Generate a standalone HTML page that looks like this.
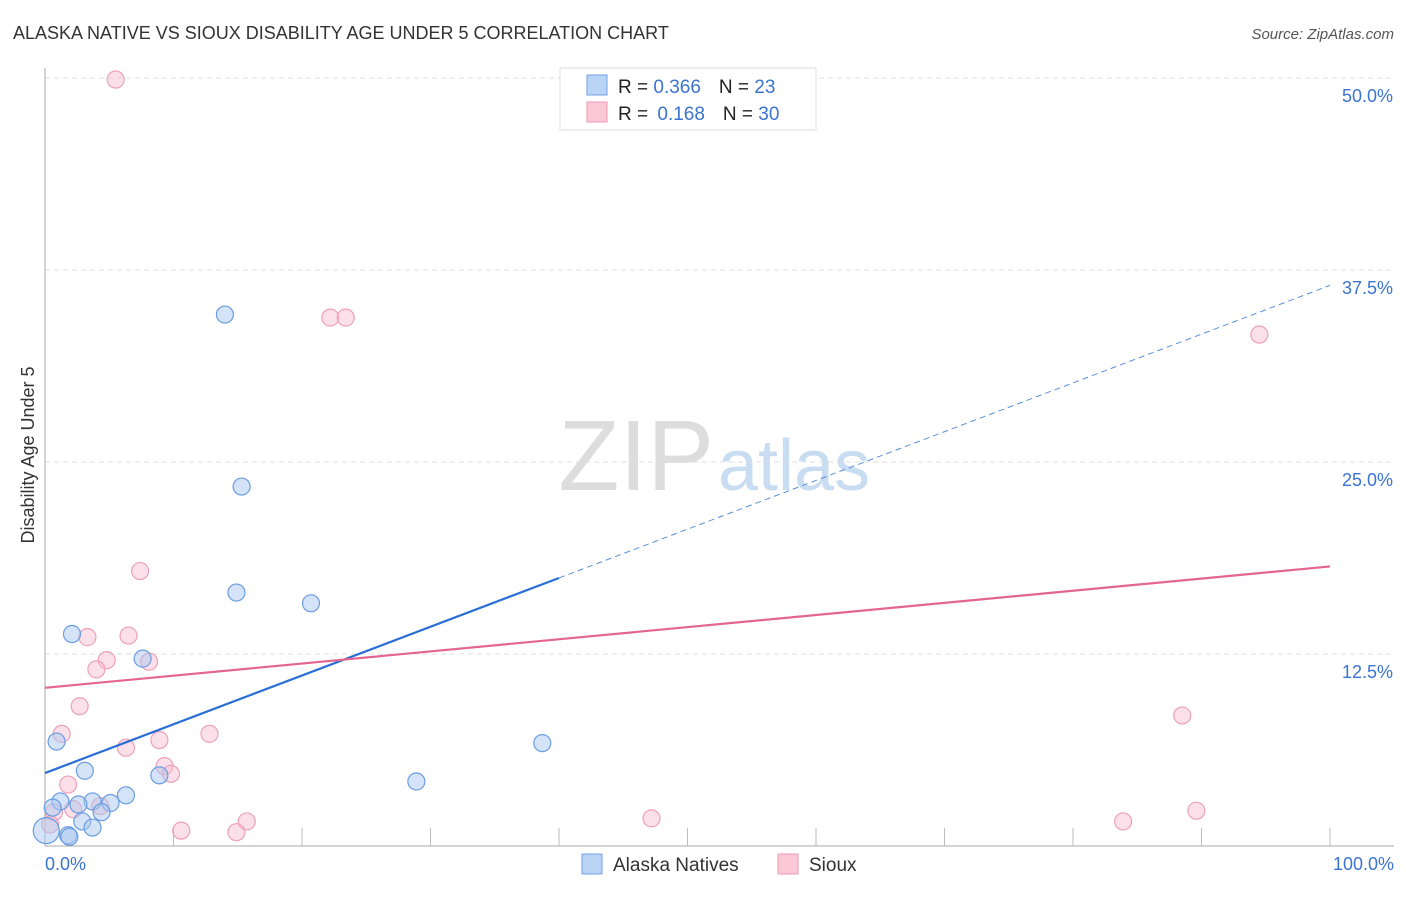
<!DOCTYPE html>
<html><head><meta charset="utf-8"><style>
body{margin:0;background:#fff;font-family:"Liberation Sans",sans-serif}
svg text{font-family:"Liberation Sans",sans-serif}
</style></head><body>
<svg id="chart" width="1406" height="892">
<text x="13" y="39" font-size="18" fill="#333">ALASKA NATIVE VS SIOUX DISABILITY AGE UNDER 5 CORRELATION CHART</text>
<text x="1394" y="39" font-size="15" fill="#555" font-style="italic" text-anchor="end">Source: ZipAtlas.com</text>
<text x="714" y="490" font-size="100" fill="#ddd" text-anchor="end" font-family="Liberation Serif">ZIP</text>
<text x="718" y="490" font-size="72" fill="#c8dcf2">atlas</text>
<g id="grid"></g><g id="axes"></g><g id="pts"></g><g id="lines"></g>
<text transform="translate(34,455) rotate(-90)" font-size="18" fill="#333" text-anchor="middle">Disability Age Under 5</text>
<text x="45" y="870" font-size="18" fill="#3b73d0">0.0%</text>
<text x="1394" y="870" font-size="18" fill="#3b73d0" text-anchor="end">100.0%</text>
<g>
<rect x="560" y="68" width="256" height="62" fill="#fff" stroke="#ddd"/>
<rect x="587" y="75" width="20" height="20" fill="#b9d3f5" stroke="#6fa0e6"/>
<rect x="587" y="102" width="20" height="20" fill="#fac8d6" stroke="#ee9ab3"/>
<text x="618" y="93" font-size="19" fill="#222">R = <tspan fill="#3b73d0">0.366</tspan><tspan dx="18">N = </tspan><tspan fill="#3b73d0">23</tspan></text>
<text x="618" y="120" font-size="19" fill="#222">R = <tspan fill="#3b73d0" dx="4">0.168</tspan><tspan dx="18">N = </tspan><tspan fill="#3b73d0">30</tspan></text>
</g>
<g>
<rect x="582" y="854" width="20" height="20" fill="#b9d3f5" stroke="#6fa0e6"/>
<text x="613" y="871" font-size="19" fill="#333">Alaska Natives</text>
<rect x="778" y="854" width="20" height="20" fill="#fac8d6" stroke="#ee9ab3"/>
<text x="809" y="871" font-size="19" fill="#333">Sioux</text>
</g>
</svg>
<script>
const yTicks=[12.5,25,37.5,50];
const yTickLabels=["12.5%","25.0%","37.5%","50.0%"];
const blueX=[14.0,15.3,14.9,20.7,2.1,7.6,0.9,38.7,3.1,8.9,28.9,6.3,3.7,1.2,2.6,5.1,0.6,4.4,2.9,3.7,1.8,1.9,0.1];
const blueY=[34.6,23.4,16.5,15.8,13.8,12.2,6.8,6.7,4.9,4.6,4.2,3.3,2.9,2.9,2.7,2.8,2.5,2.2,1.6,1.2,0.7,0.6,1.0];
const pinkX=[5.5,22.2,23.4,94.5,7.4,3.3,6.5,4.8,8.1,4.0,2.7,1.3,12.8,8.9,6.3,88.5,1.8,9.3,9.8,4.3,0.7,2.2,89.6,47.2,15.7,83.9,10.6,14.9,0.4,54.3];
const pinkY=[49.9,34.4,34.4,33.3,17.9,13.6,13.7,12.1,12.0,11.5,9.1,7.3,7.3,6.9,6.4,8.5,4.0,5.2,4.7,2.6,2.2,2.4,2.3,1.8,1.6,1.6,1.0,0.9,1.4,50.0];
const blueLine=[4.75,36.5], pinkLine=[10.3,18.2];
const sx=v=>45+v*12.85, sy=v=>846-v*15.36;
const NS="http://www.w3.org/2000/svg";
function mk(t,a,p){const e=document.createElementNS(NS,t);for(const k in a)e.setAttribute(k,a[k]);p.appendChild(e);return e;}
const grid=document.getElementById('grid');
yTicks.forEach((v,i)=>{
 const l=mk('line',{x1:45,x2:1394,y1:sy(v),y2:sy(v),stroke:'#ddd','stroke-dasharray':'5,4'},grid);
 
 
 const t=mk('text',{x:1393,y:sy(v)+24,'font-size':18,fill:'#3b73d0','text-anchor':'end'},grid);
 t.textContent=yTickLabels[i];
 
 
});
const ax=document.getElementById('axes');
const a1=mk('line',{x1:45,x2:45,y1:68,y2:846,stroke:'#aaa'},ax);


const a2=mk('line',{x1:45,x2:1394,y1:846,y2:846,stroke:'#aaa'},ax);


for(let i=1;i<=10;i++){const t=mk('line',{x1:sx(i*10),x2:sx(i*10),y1:828,y2:846,stroke:'#bbb'},ax);
 
 }
const pts=document.getElementById('pts');
pinkX.forEach((x,i)=>{const c=mk('circle',{cx:sx(x),cy:sy(pinkY[i]),r:8.5,fill:'rgba(248,187,206,0.45)',stroke:'#eea0b8','stroke-width':1.2},pts);
 
 });
blueX.forEach((x,i)=>{const c=mk('circle',{cx:sx(x),cy:sy(blueY[i]),r:i==22?13:8.5,fill:'rgba(170,200,240,0.5)',stroke:'#6a9de2','stroke-width':1.2},pts);
 
 });
const ln=document.getElementById('lines');
const bl=v=>blueLine[0]+(blueLine[1]-blueLine[0])*v/100;
const p1=mk('line',{x1:sx(0),y1:sy(bl(0)),x2:sx(40),y2:sy(bl(40)),stroke:'#2a6fd6','stroke-width':2.2},ln);


const p2=mk('line',{x1:sx(40),y1:sy(bl(40)),x2:sx(100),y2:sy(bl(100)),stroke:'#5a8fdc','stroke-width':1,'stroke-dasharray':'6,4'},ln);


const p3=mk('line',{x1:sx(0),y1:sy(pinkLine[0]),x2:sx(100),y2:sy(pinkLine[1]),stroke:'#e46690','stroke-width':2.2},ln);


</script>
</body></html>
